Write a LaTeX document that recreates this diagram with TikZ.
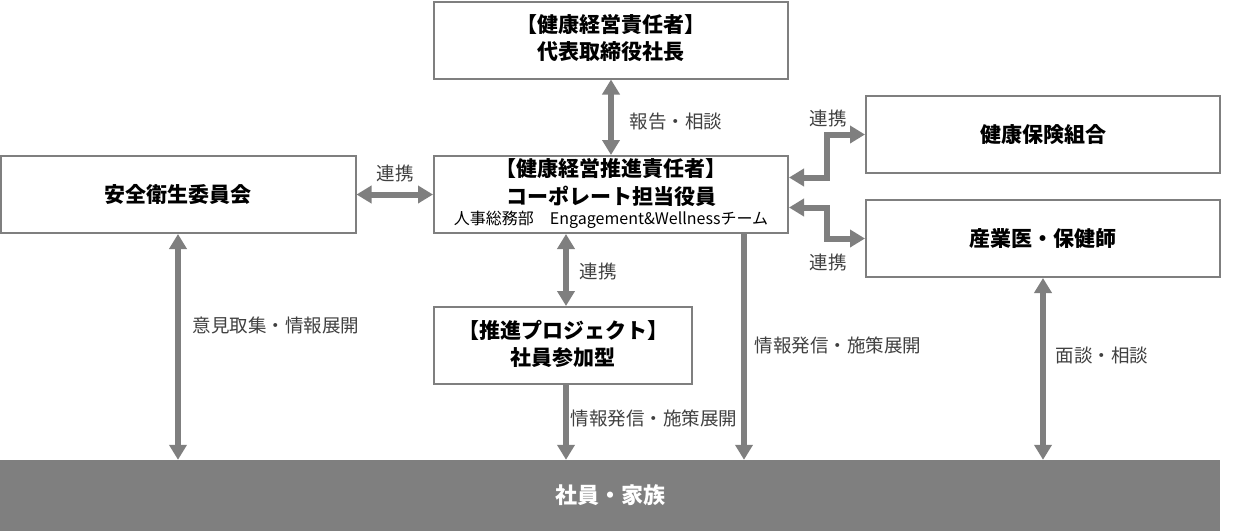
\documentclass[tikz,border=0pt]{standalone}
\usepackage{fontspec}
\setmainfont{Noto Sans CJK JP}
\usetikzlibrary{arrows.meta,calc}
\definecolor{boxgray}{HTML}{7F7F7F}
\definecolor{argray}{HTML}{7F7F7F}
\definecolor{lblgray}{HTML}{404040}
\tikzset{
  box/.style={draw=boxgray,line width=2pt,minimum width=354pt,minimum height=77pt,inner sep=0pt,fill=white},
  boxtext/.style={font=\fontsize{21}{27.5}\selectfont\bfseries,align=center,inner sep=0pt},
  tip/.tip={Triangle[width=17pt,length=15pt]},
  dbl/.style={draw=argray,line width=6pt,tip-tip},
  sgl/.style={draw=argray,line width=6pt,-tip},
  lbl/.style={font=\fontsize{18.5}{22}\selectfont,text=lblgray,inner sep=0pt}
}
\begin{document}
\begin{tikzpicture}[x=1pt,y=-1pt]
\useasboundingbox (0,0) rectangle (1234,531);
% boxes
\node[box] (top) at (611,40) {};
\node[boxtext] (toptext) at (611,38) {【健康経営責任者】\\代表取締役社長};
\node[box] (c) at (611,194.5) {};
\node[boxtext] (ctext) at (611,182.5) {【健康経営推進責任者】\\コーポレート担当役員};
\node[inner sep=0pt,font=\fontsize{16}{18}\selectfont] (csub) at (611,219.5) {人事総務部　Engagement\&Wellnessチーム};
\node[box,minimum width=355pt] (left) at (178,194.5) {};
\node[boxtext] (lefttext) at (178,194.5) {安全衛生委員会};
\node[box] (r1) at (1043,134.5) {};
\node[boxtext] (r1text) at (1043,134.5) {健康保険組合};
\node[box] (r2) at (1043,238.5) {};
\node[boxtext] (r2text) at (1043,238.5) {産業医・保健師};
\node[box,minimum width=258pt] (proj) at (563,345.5) {};
\node[boxtext] (projtext) at (563,344) {【推進プロジェクト】\\社員参加型};
\node[fill=boxgray,minimum width=1220pt,minimum height=71pt,inner sep=0pt,text=white,font=\fontsize{22}{26}\selectfont\bfseries] (bar) at (610,495.5) {社員・家族};
% connectors
\draw[dbl] (top.south) -- (c.north);
\draw[dbl] (left.east) -- (c.west);
\draw[dbl] ([xshift=3pt]proj.north) -- ([xshift=3pt]proj.north |- c.south);
\draw[sgl] ([xshift=3pt]proj.south) -- ([xshift=3pt]proj.south |- bar.north);
\draw[sgl] ([xshift=-45pt]c.south east) -- ([xshift=-45pt]c.south east |- bar.north);
\draw[dbl] (left.south) -- (left.south |- bar.north);
\draw[dbl] (r2.south) -- (r2.south |- bar.north);
\draw[dbl,line join=miter] ([yshift=17pt]c.east) -- ++(38,0) |- (r1.west);
\draw[dbl,line join=miter] ([yshift=-13pt]c.east) -- ++(38,0) |- (r2.west);
% labels
\node[lbl] (l1) at (676,122) {報告・相談};
\node[lbl] (l2) at (395,173) {連携};
\node[lbl] (l3) at (598,271) {連携};
\node[lbl] (l4) at (654,418) {情報発信・施策展開};
\node[lbl] (l5) at (838,345) {情報発信・施策展開};
\node[lbl] (l6) at (276,325) {意見取集・情報展開};
\node[lbl] (l7) at (1102,355) {面談・相談};
\node[lbl] (l8) at (828,118) {連携};
\node[lbl] (l9) at (828,262) {連携};
\end{tikzpicture}
\end{document}
